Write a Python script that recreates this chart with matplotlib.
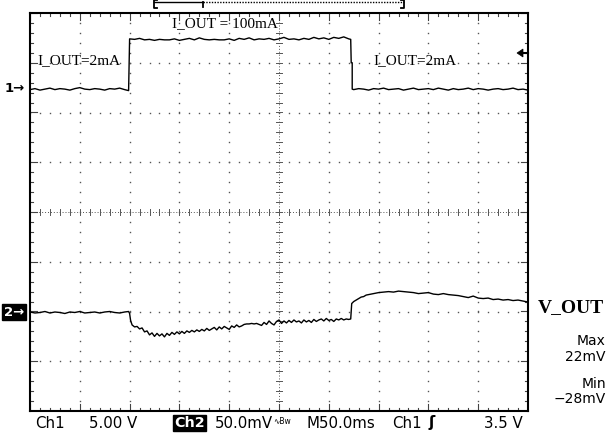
import matplotlib
matplotlib.use("Agg")
import matplotlib.pyplot as plt
import numpy as np
from matplotlib.lines import Line2D
from matplotlib.patches import Polygon

# ---------------- data (divisions: x 0..10, y -4..4) ----------------
ch1_time = [0.0, 0.1, 0.2, 0.3, 0.4, 0.5, 0.6, 0.7, 0.8, 0.9, 1.0, 1.1, 1.2, 1.3, 1.4, 1.5, 1.6, 1.7, 1.8, 1.9, 1.98,
            2.0, 2.1, 2.2, 2.3, 2.4, 2.5, 2.6, 2.7, 2.8, 2.9, 3.0, 3.1, 3.2, 3.3, 3.4, 3.5, 3.6, 3.7, 3.8, 3.9,
            4.0, 4.1, 4.2, 4.3, 4.4, 4.5, 4.6, 4.7, 4.8, 4.9, 5.0, 5.1, 5.2, 5.3, 5.4, 5.5, 5.6, 5.7, 5.8, 5.9,
            6.0, 6.1, 6.2, 6.3, 6.4, 6.44, 6.45, 6.47, 6.47,
            6.5, 6.6, 6.7, 6.8, 6.9, 7.0, 7.1, 7.2, 7.3, 7.4, 7.5, 7.6, 7.7, 7.8, 7.9, 8.0, 8.1, 8.2, 8.3, 8.4,
            8.5, 8.6, 8.7, 8.8, 8.9, 9.0, 9.1, 9.2, 9.3, 9.4, 9.5, 9.6, 9.7, 9.8, 9.9, 10.0]
ch1_value = [2.46, 2.48, 2.45, 2.47, 2.49, 2.46, 2.48, 2.47, 2.45, 2.48, 2.50, 2.47, 2.46, 2.48, 2.47, 2.45, 2.48, 2.47, 2.49, 2.46, 2.44,
             3.48, 3.47, 3.49, 3.46, 3.47, 3.45, 3.47, 3.46, 3.46, 3.48, 3.45, 3.47, 3.49, 3.46, 3.50, 3.47, 3.46, 3.47, 3.46, 3.46,
             3.48, 3.45, 3.49, 3.47, 3.50, 3.46, 3.48, 3.47, 3.49, 3.46, 3.48, 3.51, 3.47, 3.48, 3.46, 3.49, 3.47, 3.51, 3.48, 3.50,
             3.47, 3.51, 3.49, 3.52, 3.48, 3.47, 3.00, 3.00, 2.47,
             2.46, 2.48, 2.47, 2.45, 2.48, 2.47, 2.49, 2.46, 2.47, 2.48, 2.45, 2.47, 2.49, 2.46, 2.47, 2.48, 2.46, 2.49, 2.47, 2.45,
             2.48, 2.46, 2.47, 2.49, 2.46, 2.48, 2.47, 2.45, 2.47, 2.48, 2.46, 2.47, 2.49, 2.46, 2.47, 2.45]

ch2_time = [0.0, 0.1, 0.2, 0.3, 0.4, 0.5, 0.6, 0.7, 0.8, 0.9, 1.0, 1.1, 1.2, 1.3, 1.4, 1.5, 1.6, 1.7, 1.8, 1.9, 1.98,
            2.00, 2.02, 2.05, 2.10, 2.15, 2.20, 2.25, 2.30, 2.35, 2.40, 2.45, 2.50, 2.55, 2.60, 2.65, 2.70, 2.75,
            2.80, 2.85, 2.90, 2.95, 3.00, 3.05, 3.10, 3.15, 3.20, 3.25, 3.30, 3.35, 3.40, 3.45, 3.50, 3.55,
            3.60, 3.65, 3.70, 3.75, 3.80, 3.85, 3.90, 3.95, 4.00, 4.05, 4.10, 4.15, 4.20, 4.25, 4.30, 4.35,
            4.40, 4.45, 4.50, 4.55, 4.60, 4.65, 4.70, 4.75, 4.80, 4.85, 4.90, 4.95, 5.00, 5.05, 5.10, 5.15,
            5.20, 5.25, 5.30, 5.35, 5.40, 5.45, 5.50, 5.55, 5.60, 5.65, 5.70, 5.75, 5.80, 5.85, 5.90, 5.95,
            6.00, 6.05, 6.10, 6.15, 6.20, 6.25, 6.30, 6.35, 6.40, 6.44, 6.46, 6.50, 6.55, 6.60, 6.65, 6.70,
            6.75, 6.80, 6.85, 6.90, 7.0, 7.1, 7.2, 7.3, 7.4, 7.5, 7.6, 7.7, 7.8, 7.9, 8.0, 8.1, 8.2, 8.3,
            8.4, 8.5, 8.6, 8.7, 8.8, 8.9, 9.0, 9.1, 9.2, 9.3, 9.4, 9.5, 9.6, 9.7, 9.8, 9.9, 10.0]
ch2_value = [-2.01, -2.03, -2.02, -2.00, -2.03, -2.01, -2.02, -2.04, -2.01, -2.02, -2.00, -2.03, -2.02, -2.01, -2.03, -2.01, -2.00, -2.02, -2.03, -2.01, -2.00,
             -2.04, -2.18, -2.27, -2.31, -2.30, -2.35, -2.33, -2.41, -2.39, -2.47, -2.43, -2.50, -2.44, -2.49, -2.45, -2.51, -2.44,
             -2.48, -2.42, -2.46, -2.41, -2.45, -2.40, -2.44, -2.39, -2.42, -2.38, -2.41, -2.37, -2.40, -2.36, -2.39, -2.34,
             -2.38, -2.35, -2.32, -2.37, -2.31, -2.35, -2.30, -2.33, -2.36, -2.29, -2.32, -2.27, -2.31, -2.29, -2.26, -2.25,
             -2.25, -2.24, -2.25, -2.24, -2.26, -2.28, -2.22, -2.26, -2.19, -2.24, -2.27, -2.20, -2.17, -2.24, -2.19, -2.23,
             -2.18, -2.22, -2.17, -2.21, -2.19, -2.23, -2.17, -2.21, -2.18, -2.22, -2.16, -2.20, -2.17, -2.15, -2.19, -2.14,
             -2.18, -2.16, -2.20, -2.15, -2.17, -2.14, -2.17, -2.15, -2.16, -2.15, -1.84, -1.80, -1.77, -1.74, -1.71, -1.70,
             -1.67, -1.66, -1.65, -1.64, -1.62, -1.61, -1.60, -1.61, -1.59, -1.60, -1.61, -1.62, -1.64, -1.63, -1.62, -1.65, -1.66, -1.64,
             -1.66, -1.67, -1.68, -1.70, -1.72, -1.69, -1.73, -1.74, -1.73, -1.76, -1.75, -1.77, -1.76, -1.78, -1.77, -1.79, -1.81]

label_high = "I_OUT = 100mA"
label_low = "I_OUT=2mA"
label_ch2 = "V_OUT"
meas_labels = ["Max", "22mV", "Min", "\u221228mV"]

# ---------------- figure ----------------
W, H = 608, 433
fig = plt.figure(figsize=(W / 100, H / 100), dpi=100)
fig.patch.set_facecolor("white")
L, R, T, B = 30, 528, 13, 411
ax = fig.add_axes([L / W, 1 - B / H, (R - L) / W, (B - T) / H])
ax.set_xlim(0, 10)
ax.set_ylim(-4, 4)
ax.set_xticks([])
ax.set_yticks([])
for s in ax.spines.values():
    s.set_linewidth(1.5)
    s.set_color("black")

def fx(x):
    return x / W

def fy(y):
    return 1 - y / H

# grid dots
gx = np.arange(0, 10.001, 0.2)
gy = np.arange(-4, 4.001, 0.2)
gcol = "#555555"
for k in range(1, 10):
    if k == 5:
        continue
    ax.plot(np.full_like(gy, k), gy, ls="none", marker="s", ms=1.0, mew=0, color=gcol)
for k in range(-3, 4):
    if k == 0:
        continue
    ax.plot(gx, np.full_like(gx, k), ls="none", marker="s", ms=1.0, mew=0, color=gcol)

# centre cross-hair
ax.axvline(5, color="#555555", lw=0.7, ls=(0, (1, 2)))
ax.axhline(0, color="#555555", lw=0.7, ls=(0, (1, 2)))
tl = 0.07
for y in gy:
    ax.plot([5 - tl, 5 + tl], [y, y], color="#555555", lw=0.7)
for x in gx:
    ax.plot([x, x], [-tl, tl], color="#555555", lw=0.7)

# frame ticks
for x in gx:
    ln = 0.14 if abs(x - round(x)) < 1e-6 else 0.07
    ax.plot([x, x], [4, 4 - ln], color="#444444", lw=0.8)
    ax.plot([x, x], [-4, -4 + ln], color="#444444", lw=0.8)
for y in gy:
    ln = 0.14 if abs(y - round(y)) < 1e-6 else 0.07
    ax.plot([0, ln], [y, y], color="#444444", lw=0.8)
    ax.plot([10, 10 - ln], [y, y], color="#444444", lw=0.8)

# traces
ax.plot(ch1_time, ch1_value, color="black", lw=1.0)
ax.plot(ch2_time, ch2_value, color="black", lw=1.0)

# in-screen labels
serif = "Liberation Serif"
fig.text(fx(172), fy(24), label_high, family=serif, fontsize=11, va="center", ha="left")
fig.text(fx(37), fy(61), label_low, family=serif, fontsize=11, va="center", ha="left")
fig.text(fx(373), fy(61), label_low, family=serif, fontsize=11, va="center", ha="left")

# right side labels
fig.text(fx(538), fy(308), label_ch2, family=serif, fontsize=14, fontweight="bold", va="center", ha="left")
sans = "DejaVu Sans"
for txt, y in zip(meas_labels, [341, 357, 384, 399]):
    fig.text(fx(606), fy(y), txt, family=sans, fontsize=10, va="center", ha="right")

# channel markers
fig.text(fx(5), fy(89), "1\u2192", family=sans, fontsize=9.5, fontweight="bold", va="center", ha="left")
fig.text(fx(4), fy(312), "2\u2192", family=sans, fontsize=9.5, fontweight="bold", color="white",
         va="center", ha="left", bbox=dict(boxstyle="square,pad=0.12", fc="black", ec="black"))

# trigger level arrow
fig.add_artist(Polygon([[fx(517), fy(53)], [fx(523), fy(49)], [fx(523), fy(57)]], closed=True,
                       transform=fig.transFigure, fc="black", ec="black", lw=0.5))
fig.add_artist(Line2D([fx(522), fx(528)], [fy(53), fy(53)], transform=fig.transFigure, color="black", lw=1.5))

# top record bracket
k = dict(transform=fig.transFigure, color="black")
fig.add_artist(Line2D([fx(157), fx(154), fx(154), fx(157)], [fy(0), fy(0), fy(8), fy(8)], lw=1.3, **k))
fig.add_artist(Line2D([fx(154), fx(203)], [fy(1.5), fy(1.5)], lw=1.0, **k))
fig.add_artist(Line2D([fx(203), fx(203)], [fy(1.5), fy(7)], lw=1.3, **k))
fig.add_artist(Line2D([fx(203), fx(404)], [fy(1.5), fy(1.5)], lw=1.0, ls=(0, (1, 1)), **k))
fig.add_artist(Line2D([fx(401), fx(404), fx(404), fx(401)], [fy(0), fy(0), fy(8), fy(8)], lw=1.3, **k))

# bottom status line
yb = 423
fs = 10.8
fig.text(fx(35), fy(yb), "Ch1", family=sans, fontsize=fs, va="center", ha="left")
fig.text(fx(89), fy(yb), "5.00 V", family=sans, fontsize=fs, va="center", ha="left")
fig.text(fx(174), fy(yb), "Ch2", family=sans, fontsize=fs - 0.5, fontweight="bold", color="white", va="center", ha="left",
         bbox=dict(boxstyle="square,pad=0.1", fc="black", ec="black"))
fig.text(fx(215), fy(yb), "50.0mV", family=sans, fontsize=fs, va="center", ha="left")
fig.text(fx(273), fy(yb - 1), "\u223fBw", family=sans, fontsize=5.5, va="center", ha="left")
fig.text(fx(306), fy(yb), "M50.0ms", family=sans, fontsize=fs, va="center", ha="left")
fig.text(fx(392), fy(yb), "Ch1", family=sans, fontsize=fs, va="center", ha="left")
fig.text(fx(428), fy(yb), "\u0283", family=sans, fontsize=fs, fontweight="bold", va="center", ha="left")
fig.text(fx(484), fy(yb), "3.5 V", family=sans, fontsize=fs, va="center", ha="left")

fig.savefig("out.png", dpi=100, facecolor="white")
